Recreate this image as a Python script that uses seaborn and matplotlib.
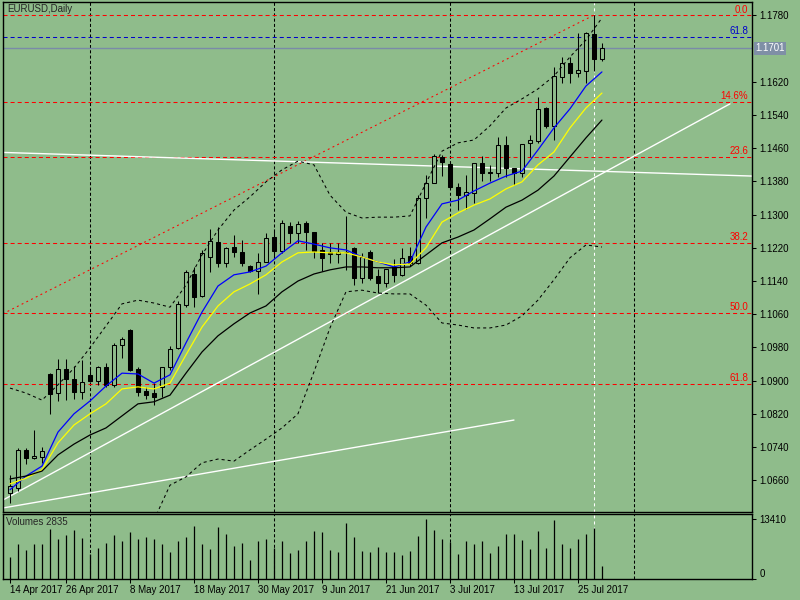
import numpy as np
import pandas as pd
import seaborn as sns
import matplotlib
matplotlib.use('Agg')
import matplotlib.pyplot as plt
import matplotlib.transforms as mtransforms

# EURUSD daily bars (bar index 0 = first visible bar)
opens = [1.0628, 1.0641, 1.0733, 1.0713, 1.0717, 1.0917, 1.0870, 1.0927, 1.0903, 1.0873,
         1.0914, 1.0898, 1.0932, 1.0890, 1.0986, 1.1022, 1.0927, 1.0876, 1.0871, 1.0884,
         1.0932, 1.0978, 1.1082, 1.1157, 1.1104, 1.1197, 1.1235, 1.1184, 1.1221, 1.1211,
         1.1176, 1.1165, 1.1187, 1.1245, 1.1213, 1.1273, 1.1255, 1.1279, 1.1258, 1.1215,
         1.1209, 1.1205, 1.1210, 1.1219, 1.1147, 1.1210, 1.1151, 1.1136, 1.1173, 1.1155,
         1.1200, 1.1183, 1.1339, 1.1377, 1.1440, 1.1422, 1.1367, 1.1347, 1.1353, 1.1424,
         1.1402, 1.1400, 1.1468, 1.1412, 1.1400, 1.1473, 1.1478, 1.1558, 1.1514, 1.1631,
         1.1666, 1.1642, 1.1647, 1.1735, 1.1674]
highs = [1.0673, 1.0738, 1.0738, 1.0781, 1.0741, 1.0918, 1.0951, 1.0951, 1.0935, 1.0950,
         1.0934, 1.0935, 1.0942, 1.0991, 1.1004, 1.1024, 1.0934, 1.0885, 1.0894, 1.0934,
         1.0983, 1.1092, 1.1167, 1.1175, 1.1215, 1.1265, 1.1270, 1.1221, 1.1251, 1.1239,
         1.1179, 1.1208, 1.1255, 1.1265, 1.1287, 1.1283, 1.1285, 1.1285, 1.1258, 1.1231,
         1.1232, 1.1232, 1.1297, 1.1222, 1.1207, 1.1215, 1.1168, 1.1169, 1.1192, 1.1219,
         1.1221, 1.1347, 1.1396, 1.1446, 1.1444, 1.1428, 1.1376, 1.1396, 1.1425, 1.1441,
         1.1419, 1.1486, 1.1489, 1.1412, 1.1470, 1.1492, 1.1584, 1.1559, 1.1657, 1.1681,
         1.1681, 1.1737, 1.1741, 1.1781, 1.1714]
lows = [1.0606, 1.0635, 1.0699, 1.0711, 1.0701, 1.0820, 1.0852, 1.0853, 1.0855, 1.0855,
        1.0896, 1.0890, 1.0885, 1.0885, 1.0954, 1.0922, 1.0863, 1.0855, 1.0841, 1.0861,
        1.0926, 1.0976, 1.1078, 1.1077, 1.1102, 1.1163, 1.1175, 1.1175, 1.1199, 1.1176,
        1.1163, 1.1109, 1.1186, 1.1199, 1.1207, 1.1231, 1.1231, 1.1215, 1.1195, 1.1165,
        1.1183, 1.1183, 1.1167, 1.1131, 1.1135, 1.1143, 1.1111, 1.1126, 1.1138, 1.1151,
        1.1176, 1.1181, 1.1291, 1.1376, 1.1392, 1.1365, 1.1311, 1.1313, 1.1327, 1.1380,
        1.1380, 1.1391, 1.1391, 1.1371, 1.1391, 1.1438, 1.1472, 1.1508, 1.1480, 1.1618,
        1.1618, 1.1631, 1.1618, 1.1647, 1.1671]
closes = [1.0646, 1.0733, 1.0713, 1.0718, 1.0730, 1.0868, 1.0927, 1.0905, 1.0873, 1.0897,
          1.0900, 1.0932, 1.0890, 1.0986, 1.1000, 1.0926, 1.0873, 1.0865, 1.0861, 1.0932,
          1.0976, 1.1084, 1.1163, 1.1102, 1.1207, 1.1237, 1.1184, 1.1219, 1.1211, 1.1183,
          1.1165, 1.1187, 1.1243, 1.1213, 1.1281, 1.1255, 1.1278, 1.1257, 1.1213, 1.1195,
          1.1204, 1.1211, 1.1211, 1.1147, 1.1197, 1.1147, 1.1135, 1.1168, 1.1155, 1.1195,
          1.1183, 1.1339, 1.1377, 1.1441, 1.1428, 1.1366, 1.1347, 1.1354, 1.1424, 1.1401,
          1.1400, 1.1468, 1.1412, 1.1400, 1.1470, 1.1480, 1.1554, 1.1514, 1.1634, 1.1666,
          1.1641, 1.1649, 1.1737, 1.1676, 1.1701]
volumes = [4980, 7820, 6480, 7820, 7820, 11180, 8940, 9830, 10950, 9160,
           5590, 6930, 8050, 9830, 8490, 10500, 8940, 9390, 8940, 7820,
           6030, 8490, 9390, 11850, 7820, 6700, 11620, 10060, 7380, 8050,
           4250, 8490, 8940, 6930, 8490, 5810, 6480, 8490, 10730, 10500,
           6480, 6030, 12520, 9390, 6260, 6030, 7150, 6030, 6030, 5360,
           6260, 9610, 13410, 10950, 8940, 8270, 5590, 8490, 7820, 8490,
           5810, 7380, 10060, 10060, 8720, 6700, 10730, 6930, 13190, 7820,
           6930, 8940, 10060, 11400, 2835]

# indicator lines, read at every second bar (0, 2, ..., 74)
ind_bars = list(range(0, 75, 2))
ma_fast = [1.0637, 1.0670, 1.0694, 1.0776, 1.0820, 1.0851, 1.0887, 1.0918, 1.0916, 1.0894,
           1.0914, 1.0991, 1.1065, 1.1128, 1.1155, 1.1162, 1.1176, 1.1208, 1.1237, 1.1229,
           1.1220, 1.1215, 1.1198, 1.1186, 1.1174, 1.1186, 1.1270, 1.1326, 1.1335, 1.1357,
           1.1376, 1.1393, 1.1405, 1.1456, 1.1509, 1.1555, 1.1610, 1.1644]
ma_mid = [1.0651, 1.0665, 1.0685, 1.0750, 1.0793, 1.0820, 1.0844, 1.0880, 1.0885, 1.0880,
          1.0894, 1.0962, 1.1029, 1.1080, 1.1114, 1.1133, 1.1155, 1.1186, 1.1208, 1.1210,
          1.1208, 1.1208, 1.1198, 1.1186, 1.1179, 1.1181, 1.1220, 1.1282, 1.1304, 1.1323,
          1.1338, 1.1362, 1.1379, 1.1420, 1.1451, 1.1509, 1.1557, 1.1593]
ma_slow = [1.0663, 1.0670, 1.0682, 1.0721, 1.0747, 1.0769, 1.0786, 1.0815, 1.0844, 1.0849,
           1.0865, 1.0918, 1.0969, 1.1008, 1.1037, 1.1063, 1.1080, 1.1114, 1.1140, 1.1157,
           1.1167, 1.1174, 1.1174, 1.1172, 1.1172, 1.1174, 1.1203, 1.1232, 1.1246, 1.1263,
           1.1290, 1.1318, 1.1335, 1.1359, 1.1393, 1.1439, 1.1485, 1.1528]
bb_upper = [1.0882, 1.0870, 1.0853, 1.0890, 1.0930, 1.0979, 1.1032, 1.1085, 1.1094, 1.1087,
            1.1077, 1.1130, 1.1203, 1.1263, 1.1311, 1.1343, 1.1379, 1.1408, 1.1429, 1.1420,
            1.1347, 1.1306, 1.1292, 1.1294, 1.1294, 1.1297, 1.1376, 1.1453, 1.1473, 1.1480,
            1.1514, 1.1557, 1.1579, 1.1603, 1.1634, 1.1680, 1.1721, 1.1774]
bb_lower = [np.nan] * 9 + [1.0564, 1.0648, 1.0668, 1.0702, 1.0711, 1.0706, 1.0733, 1.0759,
            1.0786, 1.0820, 1.0921, 1.1027, 1.1114, 1.1118, 1.1111, 1.1109, 1.1109, 1.1082,
            1.1039, 1.1034, 1.1027, 1.1027, 1.1034, 1.1056, 1.1094, 1.1143, 1.1196, 1.1227,
            1.1222]

# fibonacci levels
fib_labels = ['0.0', '14.6%', '23.6', '38.2', '50.0', '61.8']
fib_prices = [1.1780, 1.1572, 1.1439, 1.1232, 1.1063, 1.0892]
fib2_label = '61.8'
fib2_price = 1.1728
last_price = 1.1701

# drawn trend lines: (bar, price) anchors
red_trend = ([-0.9, 73], [1.1061, 1.1781])
white_trend = ([-0.9, 90], [1.0612, 1.1567])
white_low = ([-0.9, 63], [1.0593, 1.0805])
white_flat = ([-0.9, 92.8], [1.1450, 1.1393])

date_pos = [0, 7, 15, 23, 31, 39, 47, 55, 63, 71]
date_labels = ['14 Apr 2017', '26 Apr 2017', '8 May 2017', '18 May 2017', '30 May 2017',
               '9 Jun 2017', '21 Jun 2017', '3 Jul 2017', '13 Jul 2017', '25 Jul 2017']
price_ticks = [1.0660, 1.0740, 1.0820, 1.0900, 1.0980, 1.1060, 1.1140, 1.1220,
               1.1300, 1.1380, 1.1460, 1.1540, 1.1620, 1.1780]
grid_bars = [10, 33, 55, 78]
vline_bar = 73

BG = '#8FBC8B'
sns.set_style('ticks', rc={'axes.facecolor': BG, 'figure.facecolor': BG,
                           'axes.edgecolor': 'black', 'xtick.color': 'black',
                           'ytick.color': 'black'})
plt.rcParams['font.family'] = ['Liberation Sans', 'DejaVu Sans']
plt.rcParams['lines.scale_dashes'] = False
FS = 7

df = pd.DataFrame({'bar': np.arange(len(closes)), 'open': opens, 'high': highs,
                   'low': lows, 'close': closes, 'volume': volumes})
ind = pd.DataFrame({'bar': ind_bars, 'fast': ma_fast, 'mid': ma_mid, 'slow': ma_slow,
                    'upper': bb_upper, 'lower': bb_lower})

fig = plt.figure(figsize=(8, 6), dpi=100)
ax = fig.add_axes([0.0034, 0.1462, 0.937, 0.851])
axv = fig.add_axes([0.0034, 0.035, 0.937, 0.1078])

xlim = (-0.91, 92.8)
dash_grid = (0, (2.2, 1.6))

# main price panel
for b in grid_bars:
    ax.axvline(b, color='black', lw=0.75, ls=dash_grid, zorder=1)
    axv.axvline(b, color='black', lw=0.75, ls=dash_grid, zorder=1)
ax.axvline(vline_bar, color='white', lw=0.75, ls=(0, (2.2, 2.2)), zorder=1)
axv.axvline(vline_bar, color='white', lw=0.75, ls=(0, (2.2, 2.2)), zorder=1)

for p in fib_prices:
    ax.axhline(p, color='red', lw=0.75, ls=(0, (2.9, 2.2)), zorder=2)
ax.axhline(fib2_price, color='#0000CC', lw=0.75, ls=(0, (2.9, 2.2)), zorder=2)
ax.axhline(last_price, color='#7A8BA8', lw=1.0, zorder=2)

ax.plot(*red_trend, color='red', lw=0.75, ls=(0, (1.4, 2.4)), zorder=2)
ax.plot(*white_trend, color='white', lw=1.0, zorder=2)
ax.plot(*white_low, color='white', lw=1.0, zorder=2)
ax.plot(*white_flat, color='white', lw=1.0, zorder=2)

# candles
up = df['close'] >= df['open']
body_lo = df[['open', 'close']].min(axis=1)
body_h = (df['close'] - df['open']).abs()
ax.vlines(df['bar'], df['low'], df['high'], color='black', lw=0.75, zorder=3)
ax.bar(df['bar'][up], body_h[up], bottom=body_lo[up], width=0.6,
       facecolor=BG, edgecolor='black', lw=0.75, zorder=4)
ax.bar(df['bar'][~up], body_h[~up], bottom=body_lo[~up], width=0.6,
       facecolor='black', edgecolor='black', lw=0.75, zorder=4)

# indicators
sns.lineplot(data=ind, x='bar', y='fast', color='#0000FF', lw=0.9, ax=ax, zorder=5)
sns.lineplot(data=ind, x='bar', y='mid', color='#FFFF00', lw=0.9, ax=ax, zorder=5)
sns.lineplot(data=ind, x='bar', y='slow', color='black', lw=0.9, ax=ax, zorder=5)
ax.plot(ind['bar'], ind['upper'], color='black', lw=0.75, ls=(0, (2.2, 2.2)), zorder=5)
ax.plot(ind['bar'], ind['lower'], color='black', lw=0.75, ls=(0, (2.2, 2.2)), zorder=5)

ax.set_xlim(*xlim)
ax.set_ylim(1.05827, 1.18133)
ax.set_xlabel('')
ax.set_ylabel('')
ax.set_xticks([])
ax.yaxis.tick_right()
ax.set_yticks(price_ticks)
ax.set_yticklabels([f'{p:.4f}' for p in price_ticks])
ax.tick_params(axis='y', direction='out', length=3, width=0.75, pad=2, labelsize=FS)
for s in ax.spines.values():
    s.set_visible(True)
    s.set_linewidth(1.0)

ax.text(0.0057, 0.996, 'EURUSD,Daily', transform=ax.transAxes, ha='left', va='top',
        fontsize=FS)

trans = mtransforms.blended_transform_factory(ax.transAxes, ax.transData)
for lab, p in zip(fib_labels, fib_prices):
    ax.text(0.9943, p + 0.0002, lab, transform=trans, ha='right', va='bottom',
            color='red', fontsize=FS)
ax.text(0.9943, fib2_price + 0.0002, fib2_label, transform=trans, ha='right',
        va='bottom', color='#0000CC', fontsize=FS)
ax.text(1.004, last_price, f'{last_price:.4f}', transform=trans, ha='left', va='center',
        color='white', fontsize=FS, clip_on=False,
        bbox=dict(boxstyle='square,pad=0.15', facecolor='#7F8FA6', edgecolor='none'))

# volume panel
axv.vlines(df['bar'], 0, df['volume'], color='black', lw=0.9, zorder=3)
axv.set_xlim(*xlim)
axv.set_ylim(0, 14460)
axv.yaxis.tick_right()
axv.set_yticks([0, 13410])
axv.set_yticklabels(['0', '13410'])
axv.tick_params(axis='y', direction='out', length=3, width=0.75, pad=2, labelsize=FS)
axv.get_yticklabels()[0].set_va('bottom')
axv.set_xticks(date_pos)
axv.set_xticklabels(date_labels, ha='left')
axv.tick_params(axis='x', direction='out', length=3, width=0.75, pad=1, labelsize=FS)
for s in axv.spines.values():
    s.set_visible(True)
    s.set_linewidth(1.0)
axv.text(0.0045, 0.955, f'Volumes {volumes[-1]}', transform=axv.transAxes, ha='left',
         va='top', fontsize=FS)

fig.savefig('out.png', dpi=100, facecolor=BG)
